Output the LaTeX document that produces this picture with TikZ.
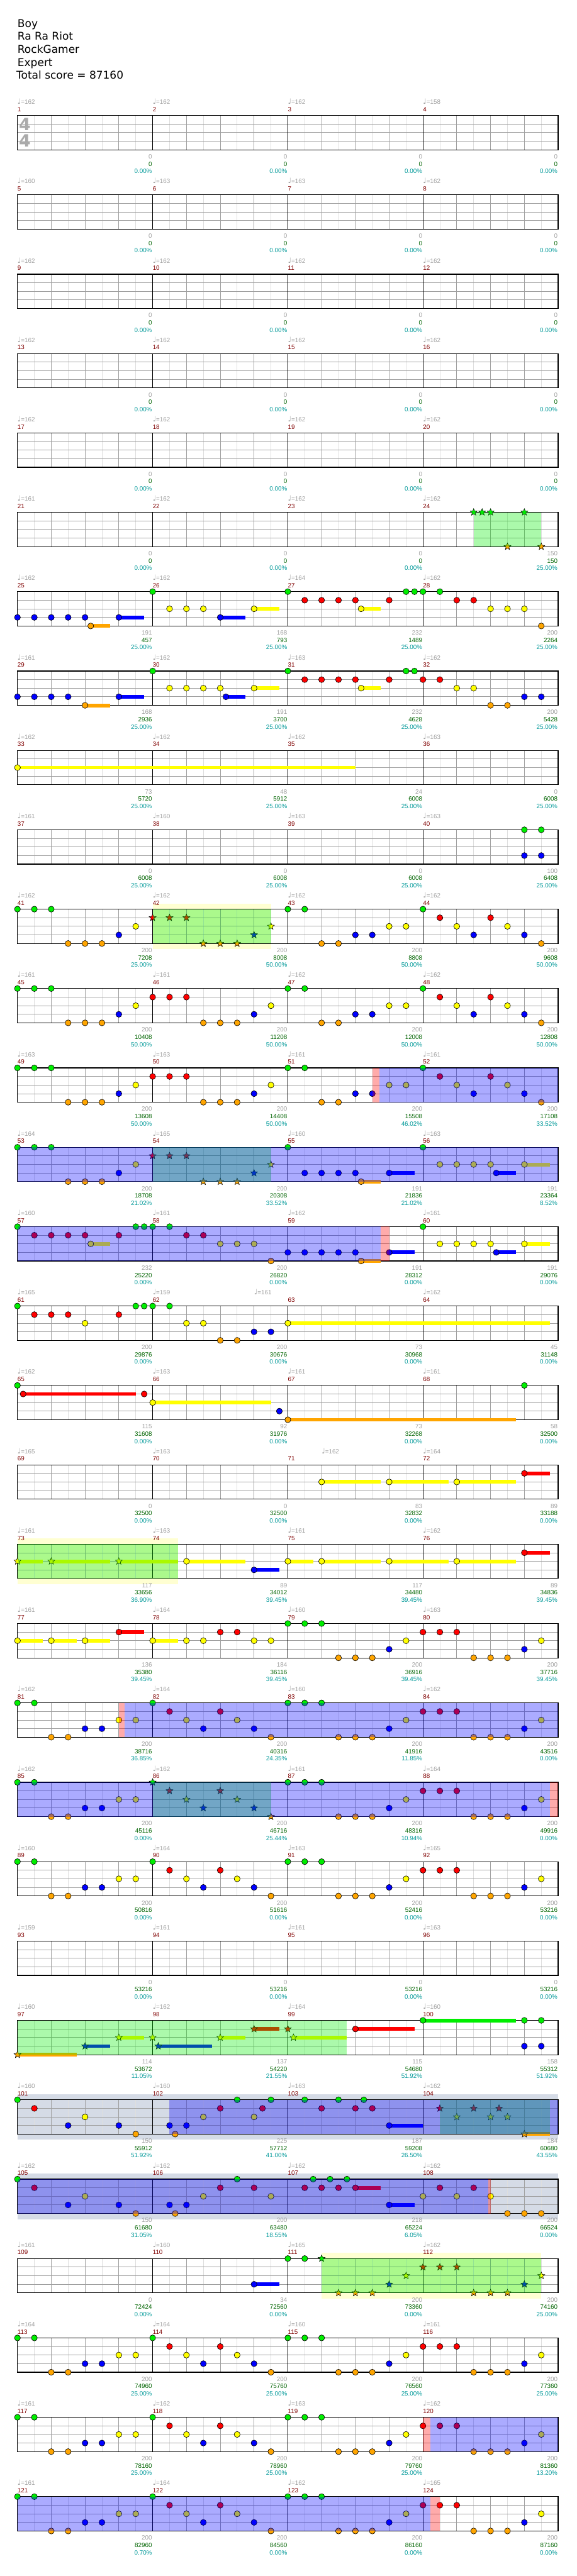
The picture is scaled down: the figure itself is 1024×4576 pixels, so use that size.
\documentclass[tikz,border=0pt]{standalone}
\usepackage{fontspec}
\setmainfont{DejaVu Sans}
\newfontfamily\labelfont{Liberation Sans}
\newfontfamily\symfont{DejaVu Sans}
\usetikzlibrary{shapes.geometric}

\definecolor{lane0}{RGB}{0,238,0}
\definecolor{lane1}{RGB}{255,0,0}
\definecolor{lane2}{RGB}{255,255,0}
\definecolor{lane3}{RGB}{0,0,255}
\definecolor{lane4}{RGB}{255,165,0}
\definecolor{tempogray}{RGB}{160,160,160}
\definecolor{barred}{RGB}{128,0,0}
\definecolor{scoregreen}{RGB}{0,100,0}
\definecolor{pctcyan}{RGB}{0,153,153}
\definecolor{phrasebg}{RGB}{255,255,210}
\definecolor{solobg}{RGB}{213,219,230}

% #1 row, #2 notes, #3 star notes, #4 star power, #5 overdrive, #6 overdrive end, #7 phrase, #8 solo
\newcommand{\chartrow}[8]{%
\edef\notelist{#2}\edef\starlist{#3}\edef\splist{#4}\edef\odlist{#5}%
\edef\endlist{#6}\edef\phraselist{#7}\edef\sololist{#8}%
\begin{scope}[shift={(0,{205+141*#1})}]
\ifx\sololist\empty\else \foreach \a/\b in \sololist \fill[solobg] ({31+15*\a},-10) rectangle ({31+15*\b},71);\fi
\ifx\phraselist\empty\else \foreach \a/\b in \phraselist \fill[phrasebg] ({31+15*\a},-10) rectangle ({31+15*\b},71);\fi
\foreach \i in {1,3,...,31} \draw[halfbeat] ({31+30*\i},0) -- ++(0,61);
\foreach \i in {1,...,15} \draw[beat] ({31+60*\i},0) -- ++(0,61);
\foreach \j in {1,2,3} \draw[lanerule] (31,{15.25*\j}) -- (991,{15.25*\j});
\foreach \i in {1,2,3} \draw[barrule] ({31+240*\i},0) -- ++(0,61);
\draw[frame] (31,0) rectangle (991,61);
\ifx\notelist\empty\else \foreach \p/\l/\s in \notelist \fill[lane\l] ({31+15*\p},{15.25*\l-3.3}) rectangle ++({15*\s},6.6);\fi
\ifx\starlist\empty\else \foreach \p/\l/\s in \starlist \fill[lane\l] ({31+15*\p},{15.25*\l-3.3}) rectangle ++({15*\s},6.6);\fi
\ifx\notelist\empty\else \foreach \p/\l/\s in \notelist \draw[head,fill=lane\l] ({31+15*\p},{15.25*\l}) circle (5.3pt);\fi
\ifx\starlist\empty\else \foreach \p/\l/\s [count=\c] in \starlist \node[starhead,fill=lane\l] (star-#1-\c) at ({31+15*\p},{15.25*\l}) {};\fi
\ifx\splist\empty\else \foreach \a/\b in \splist \fill[spzone] ({31+15*\a},0) rectangle ({31+15*\b},61);\fi
\ifx\odlist\empty\else \foreach \a/\b in \odlist \fill[odzone] ({31+15*\a},0) rectangle ({31+15*\b},61);\fi
\ifx\endlist\empty\else \foreach \a/\b in \endlist \fill[endzone] ({31+15*\a},0) rectangle ({31+15*\b},61);\fi
\foreach \j in {0,...,3}{
  \pgfmathtruncatemacro{\m}{4*#1+\j+1}
  \node[barno] (bar-\m) at ({31+240*\j},-7) {\m};
}
\end{scope}}

\newcommand{\charttempo}[2]{%
\foreach \p/\t [count=\c] in {#2}
  \node[tempo] (tempo-#1-\c) at ({31+15*\p},{185+141*#1}) {{\symfont\fontsize{13}{13}\selectfont ♩}=\t};}

\newcommand{\chartscore}[2]{%
\foreach \g/\s/\p [count=\j] in {#2}{
  \node[gain] (gain-#1-\j) at ({30+240*\j},{282+141*#1}) {\g};
  \node[total] (total-#1-\j) at ({30+240*\j},{295+141*#1}) {\s};
  \node[ratio] (ratio-#1-\j) at ({30+240*\j},{308+141*#1}) {\p\%};
}}

\def\riffA{0/0/0,2/0/0,4/0/0,6/4/0,8/4/0,10/4/0,12/3/0,14/2/0,16/1/0,18/1/0,20/1/0,22/4/0,24/4/0,26/4/0,28/3/0,30/2/0,32/0/0,34/0/0,36/4/0,38/4/0,40/3/0,42/3/0,44/2/0,46/2/0,48/0/0,50/1/0,52/2/0,54/3/0,56/1/0,58/2/0,60/3/0,62/4/0}
\def\riffBhead{0/0/0,2/0/0,4/4/0,6/4/0,8/3/0,10/3/0,12/2/0,14/2/0}
\def\riffBmid{16/0/0,18/1/0,20/2/0,22/3/0,24/1/0,26/2/0,28/3/0,30/4/0}
\def\riffBtail{32/0/0,34/0/0,36/0/0,38/4/0,40/4/0,42/4/0,44/3/0,46/2/0,48/1/0,50/1/0,52/1/0,54/4/0,56/4/0,58/4/0,60/3/0,62/2/0}
\def\riffB{\riffBhead,\riffBmid,\riffBtail}

\begin{document}
\begin{tikzpicture}[x=1pt,y=-1pt,
  halfbeat/.style={draw={rgb,255:red,222;green,222;blue,222},line width=1pt},
  beat/.style={draw={rgb,255:red,160;green,160;blue,160},line width=1pt},
  lanerule/.style={draw={rgb,255:red,160;green,160;blue,160},line width=1pt},
  barrule/.style={draw=black,line width=1pt},
  frame/.style={draw=black,line width=1.3pt},
  head/.style={draw=black,line width=0.7pt},
  starhead/.style={star,star points=5,star point ratio=2.3,minimum size=13,inner sep=0,draw=black,line width=0.6pt},
  spzone/.style={fill=lane0,fill opacity=0.33},
  odzone/.style={fill=lane3,fill opacity=0.33},
  endzone/.style={fill=lane1,fill opacity=0.33},
  barno/.style={anchor=base west,inner sep=0,text=barred,font=\labelfont\fontsize{11}{13}\selectfont},
  tempo/.style={anchor=base west,inner sep=0,text=tempogray,font=\labelfont\fontsize{11}{13}\selectfont},
  gain/.style={anchor=base east,inner sep=0,text=tempogray,font=\labelfont\fontsize{11}{13}\selectfont},
  total/.style={anchor=base east,inner sep=0,text=scoregreen,font=\labelfont\fontsize{11}{13}\selectfont},
  ratio/.style={anchor=base east,inner sep=0,text=pctcyan,font=\labelfont\fontsize{11}{13}\selectfont},
  title/.style={anchor=base west,inner sep=0,font=\fontsize{19}{23}\selectfont}]
\fill[white] (0,0) rectangle (1024,4576);
\useasboundingbox (0,0) rectangle (1024,4576);

\node[title] (song) at (31,48.5) {Boy};
\node[title] (artist) at (31,71.5) {Ra Ra Riot};
\node[title] (charter) at (31,94.5) {RockGamer};
\node[title] (level) at (31,117.5) {Expert};
\node[title] (grand) at (29,140.5) {Total score = 87160};

% empty intro
\foreach \r in {0,...,4}{
  \chartrow{\r}{}{}{}{}{}{}{}
  \chartscore{\r}{0/0/0.00,0/0/0.00,0/0/0.00,0/0/0.00}
}
\node[anchor=center,inner sep=0,text={rgb,255:red,170;green,170;blue,170},font=\bfseries\fontsize{30}{30}\selectfont] (sig-top) at (44,221) {4};
\node[anchor=center,inner sep=0,text={rgb,255:red,170;green,170;blue,170},font=\bfseries\fontsize{30}{30}\selectfont] (sig-bot) at (44,250) {4};
\charttempo{0}{0/162,16/162,32/162,48/158}
\charttempo{1}{0/160,16/163,32/163,48/162}
\charttempo{2}{0/162,16/162,32/162,48/162}
\charttempo{3}{0/162,16/162,32/162,48/162}
\charttempo{4}{0/162,16/162,32/162,48/162}

\chartrow{5}{}{54/0/0,55/0/0,56/0/0,60/0/0,58/4/0,62/4/0}{54/62}{}{}{}{}
\charttempo{5}{0/161,16/162,32/162,48/162}
\chartscore{5}{0/0/0.00,0/0/0.00,0/0/0.00,150/150/25.00}

\chartrow{6}{0/3/0,2/3/0,4/3/0,6/3/0,8/3/0,8.67/4/2.33,12/3/3,16/0/0,18/2/0,20/2/0,22/2/0,24/3/3,28/2/3,32/0/0,34/1/0,36/1/0,38/1/0,40/1/0,40.67/2/2.33,44/1/0,46/0/0,47/0/0,48/0/0,50/0/0,52/1/0,54/1/0,56/2/0,58/2/0,60/2/0,62/4/0}{}{}{}{}{}{}
\charttempo{6}{0/162,16/162,32/164,48/162}
\chartscore{6}{191/457/25.00,168/793/25.00,232/1489/25.00,200/2264/25.00}

\chartrow{7}{0/3/0,2/3/0,4/3/0,6/3/0,8/4/3,12/3/3,16/0/0,18/2/0,20/2/0,22/2/0,24/2/0,24.67/3/2.33,28/2/3,32/0/0,34/1/0,36/1/0,38/1/0,40/1/0,40.67/2/2.33,44/1/0,46/0/0,47/0/0,48/1/0,50/1/0,52/2/0,54/2/0,56/4/0,58/4/0,60/3/0,62/3/0}{}{}{}{}{}{}
\charttempo{7}{0/161,16/162,32/163,48/162}
\chartscore{7}{168/2936/25.00,191/3700/25.00,232/4628/25.00,200/5428/25.00}

\chartrow{8}{0/2/40}{}{}{}{}{}{}
\charttempo{8}{0/162,16/162,32/162,48/163}
\chartscore{8}{73/5720/25.00,48/5912/25.00,24/6008/25.00,0/6008/25.00}

\chartrow{9}{60/0/0,62/0/0,60/3/0,62/3/0}{}{}{}{}{}{}
\charttempo{9}{0/161,16/160,32/163,48/163}
\chartscore{9}{0/6008/25.00,0/6008/25.00,0/6008/25.00,100/6408/25.00}

\chartrow{10}{0/0/0,2/0/0,4/0/0,6/4/0,8/4/0,10/4/0,12/3/0,14/2/0,32/0/0,34/0/0,36/4/0,38/4/0,40/3/0,42/3/0,44/2/0,46/2/0,48/0/0,50/1/0,52/2/0,54/3/0,56/1/0,58/2/0,60/3/0,62/4/0}{16/1/0,18/1/0,20/1/0,22/4/0,24/4/0,26/4/0,28/3/0,30/2/0}{16/30}{}{}{16/30}{}
\charttempo{10}{0/162,16/162,32/162,48/162}
\chartscore{10}{200/7208/25.00,200/8008/50.00,200/8808/50.00,200/9608/50.00}

\chartrow{11}{\riffA}{}{}{}{}{}{}
\charttempo{11}{0/161,16/161,32/162,48/162}
\chartscore{11}{200/10408/50.00,200/11208/50.00,200/12008/50.00,200/12808/50.00}

\chartrow{12}{\riffA}{}{}{42.85/64}{42/42.85}{}{}
\charttempo{12}{0/163,16/163,32/161,48/161}
\chartscore{12}{200/13608/50.00,200/14408/50.00,200/15508/46.02,200/17108/33.52}

\chartrow{13}{0/0/0,2/0/0,4/0/0,6/4/0,8/4/0,10/4/0,12/3/0,14/2/0,32/0/0,34/3/0,36/3/0,38/3/0,40/3/0,40.67/4/2.33,44/3/3,48/0/0,50/2/0,52/2/0,54/2/0,56/2/0,56.67/3/2.33,60/2/3}{16/1/0,18/1/0,20/1/0,22/4/0,24/4/0,26/4/0,28/3/0,30/2/0}{16/30}{0/64}{}{}{}
\charttempo{13}{0/164,16/165,32/160,48/163}
\chartscore{13}{200/18708/21.02,200/20308/33.52,191/21836/21.02,191/23364/8.52}

\chartrow{14}{0/0/0,2/1/0,4/1/0,6/1/0,8/1/0,8.67/2/2.33,12/1/0,14/0/0,15/0/0,16/0/0,18/0/0,20/1/0,22/1/0,24/2/0,26/2/0,28/2/0,30/4/0,32/3/0,34/3/0,36/3/0,38/3/0,40/3/0,40.67/4/2.33,44/3/3,48/0/0,50/2/0,52/2/0,54/2/0,56/2/0,56.67/3/2.33,60/2/3}{}{}{0/43}{43/44}{}{}
\charttempo{14}{0/160,16/161,32/162,48/161}
\chartscore{14}{232/25220/0.00,200/26820/0.00,191/28312/0.00,191/29076/0.00}

\chartrow{15}{0/0/0,2/1/0,4/1/0,6/1/0,8/2/0,12/1/0,14/0/0,15/0/0,16/0/0,18/0/0,20/2/0,22/2/0,24/4/0,26/4/0,28/3/0,30/3/0,32/2/31}{}{}{}{}{}{}
\charttempo{15}{0/165,16/159,28/161,48/162}
\chartscore{15}{200/29876/0.00,200/30676/0.00,73/30968/0.00,45/31148/0.00}

\chartrow{16}{0/0/0,0.67/1/13.33,15/1/0,16/2/14,31/3/0,32/4/27,60/0/0}{}{}{}{}{}{}
\charttempo{16}{0/162,16/163,32/161,48/161}
\chartscore{16}{115/31608/0.00,92/31976/0.00,73/32268/0.00,58/32500/0.00}

\chartrow{17}{36/2/7,44/2/7,52/2/7,60/1/3}{}{}{}{}{}{}
\charttempo{17}{0/165,16/163,36/162,48/164}
\chartscore{17}{0/32500/0.00,0/32500/0.00,83/32832/0.00,89/33188/0.00}

\chartrow{18}{20/2/7,28/3/3,32/2/3,36/2/7,44/2/7,52/2/7,60/1/3}{0/2/3,4/2/7,12/2/7}{0/19}{}{}{0/19}{}
\charttempo{18}{0/161,16/163,32/161,48/162}
\chartscore{18}{117/33656/36.90,89/34012/39.45,117/34480/39.45,89/34836/39.45}

\chartrow{19}{0/2/3,4/2/3,8/2/3,12/1/3,16/2/3,20/2/0,22/2/0,24/1/0,26/1/0,28/2/0,30/2/0,32/0/0,34/0/0,36/0/0,38/4/0,40/4/0,42/4/0,44/3/0,46/2/0,48/1/0,50/1/0,52/1/0,54/4/0,56/4/0,58/4/0,60/3/0,62/2/0}{}{}{}{}{}{}
\charttempo{19}{0/161,16/164,32/160,48/163}
\chartscore{19}{136/35380/39.45,184/36116/39.45,200/36916/39.45,200/37716/39.45}

\chartrow{20}{\riffB}{}{}{12.65/64}{12/12.65}{}{}
\charttempo{20}{0/162,16/164,32/160,48/162}
\chartscore{20}{200/38716/36.85,200/40316/24.35,200/41916/11.85,200/43516/0.00}

\chartrow{21}{\riffBhead,\riffBtail}{\riffBmid}{16/30}{0/63}{63/64}{}{}
\charttempo{21}{0/162,16/162,32/161,48/164}
\chartscore{21}{200/45116/0.00,200/46716/25.44,200/48316/10.94,200/49916/0.00}

\chartrow{22}{\riffB}{}{}{}{}{}{}
\charttempo{22}{0/160,16/164,32/163,48/165}
\chartscore{22}{200/50816/0.00,200/51616/0.00,200/52416/0.00,200/53216/0.00}

\chartrow{23}{}{}{}{}{}{}{}
\charttempo{23}{0/159,16/161,32/161,48/163}
\chartscore{23}{0/53216/0.00,0/53216/0.00,0/53216/0.00,0/53216/0.00}

\chartrow{24}{40/1/7,48/0/11,60/0/0,62/0/0,60/3/0,62/3/0}{0/4/7,8/3/3,12/2/3,16/2/0,16.67/3/6.33,24/2/3,28/1/3,32/1/0,32.67/2/6.33}{0/39}{}{}{}{}
\charttempo{24}{0/160,16/162,32/164,48/160}
\chartscore{24}{114/53672/11.05,137/54220/21.55,115/54680/51.92,158/55312/51.92}

\chartrow{25}{0/0/0,2/1/0,6/3/0,8/2/0,12/3/0,14/4/0,18/3/0,18.67/4/0,20/3/0,22/2/0,24/1/0,26/0/0,28/2/0,29/1/0,30/0/0,34/0/0,36/1/0,38/0/0,40/1/0,41/0/0,42/1/0,44/3/4}{50/1/0,52/2/0,54/1/0,56/2/0,57/1/0,58/2/0,60/4/3}{50/63}{18/64}{}{}{0/64}
\charttempo{25}{0/160,16/160,32/163,48/162}
\chartscore{25}{150/55912/51.92,225/57712/41.00,187/59208/26.50,184/60680/43.55}

\chartrow{26}{0/0/0,2/1/0,6/3/0,8/2/0,12/3/0,14/4/0,18/3/0,18.67/4/0,20/3/0,22/2/0,24/1/0,26/0/0,28/1/0,30/2/0,34/1/0,35/0/0,36/1/0,37/0/0,38/1/0,39/0/0,40/1/3,44/3/3,48/2/0,50/1/0,52/2/0,54/1/0,56/2/0,58/4/0,60/4/0,62/4/0}{}{}{0/55.7}{55.7/56}{}{0/64}
\charttempo{26}{0/162,16/162,32/162,48/162}
\chartscore{26}{150/61680/31.05,200/63480/18.55,218/65224/6.05,200/66524/0.00}

\chartrow{27}{28/3/3,32/0/0,34/0/0}{36/0/0,38/4/0,40/4/0,42/4/0,44/3/0,46/2/0,48/1/0,50/1/0,52/1/0,54/4/0,56/4/0,58/4/0,60/3/0,62/2/0}{36/62}{}{}{36/62}{}
\charttempo{27}{0/161,16/160,32/165,48/162}
\chartscore{27}{0/72424/0.00,34/72560/0.00,200/73360/0.00,200/74160/25.00}

\chartrow{28}{\riffB}{}{}{}{}{}{}
\charttempo{28}{0/164,16/164,32/160,48/161}
\chartscore{28}{200/74960/25.00,200/75760/25.00,200/76560/25.00,200/77360/25.00}

\chartrow{29}{\riffB}{}{}{48.85/64}{48/48.85}{}{}
\charttempo{29}{0/161,16/162,32/163,48/162}
\chartscore{29}{200/78160/25.00,200/78960/25.00,200/79760/25.00,200/81360/13.20}

\chartrow{30}{\riffB}{}{}{0/48.85}{48.85/50}{}{}
\charttempo{30}{0/161,16/164,32/162,48/165}
\chartscore{30}{200/82960/0.70,200/84560/0.00,200/86160/0.00,200/87160/0.00}
\end{tikzpicture}
\end{document}
